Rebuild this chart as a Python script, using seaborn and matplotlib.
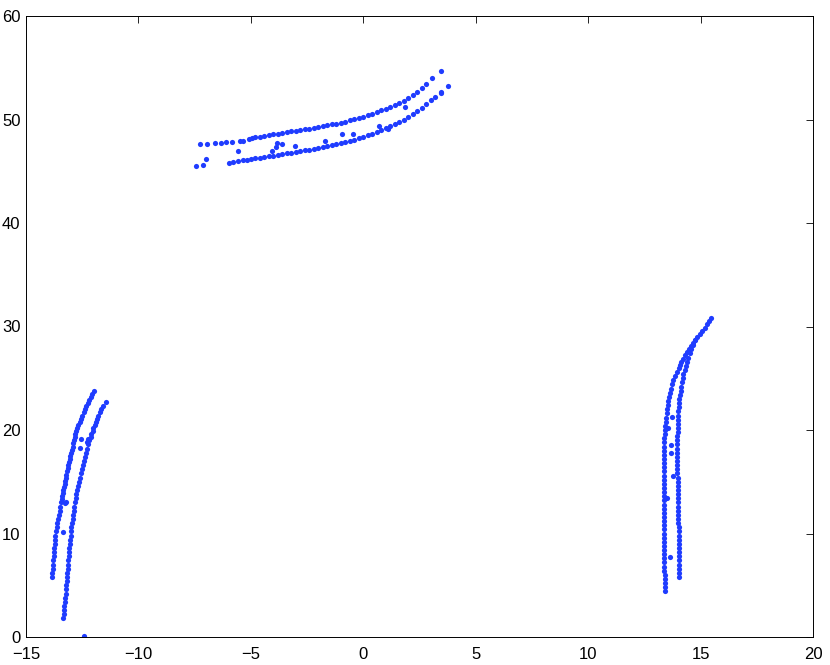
import numpy as np
import pandas as pd
import matplotlib
matplotlib.use('Agg')
import matplotlib.pyplot as plt
import seaborn as sns

# upper arc, top branch
arc_top_a = [(-7.28,47.63),(-6.95,47.67),(-6.6,47.72),(-6.35,47.75),(-6.1,47.8),(-5.85,47.85),
             (-5.5,47.92),(-5.35,47.97),(-5.1,48.12),(-4.95,48.2),(-4.8,48.3),(-4.6,48.35),
             (-4.4,48.42),(-4.2,48.5),(-4.0,48.56),(-3.8,48.63),(-3.6,48.72),(-3.4,48.8),
             (-3.2,48.86),(-3.0,48.92),(-2.8,48.98),(-2.6,49.06),(-2.4,49.13),(-2.2,49.22),
             (-2.0,49.3),(-1.8,49.37),(-1.6,49.44),(-1.4,49.52),(-1.2,49.6),(-1.0,49.7),
             (-0.8,49.8),(-0.6,49.93),(-0.4,50.05),(-0.2,50.15),(0.0,50.28),(0.2,50.42),
             (0.4,50.56),(0.6,50.72),(0.8,50.9),(1.0,51.05),(1.2,51.2),(1.4,51.38),
             (1.6,51.58),(1.8,51.8),(2.0,52.05),(2.2,52.35),(2.4,52.7),(2.6,53.05),
             (2.8,53.45),(3.04,54.0),(3.44,54.7)]
# upper arc, bottom branch
arc_top_b = [(-7.45,45.5),(-7.12,45.6),(-5.96,45.8),(-5.78,45.9),(-5.56,46.0),(-5.35,46.05),
             (-5.19,46.1),(-5.0,46.17),(-4.8,46.25),(-4.6,46.32),(-4.4,46.38),(-4.2,46.45),
             (-4.0,46.52),(-3.8,46.58),(-3.6,46.65),(-3.4,46.72),(-3.2,46.8),(-3.0,46.87),
             (-2.8,46.95),(-2.6,47.02),(-2.4,47.1),(-2.2,47.17),(-2.0,47.25),(-1.8,47.33),
             (-1.6,47.42),(-1.4,47.5),(-1.2,47.6),(-1.0,47.7),(-0.8,47.8),(-0.6,47.92),
             (-0.4,48.05),(-0.2,48.18),(0.0,48.32),(0.2,48.48),(0.4,48.64),(0.6,48.8),
             (0.8,48.98),(1.0,49.15),(1.2,49.35),(1.4,49.55),(1.6,49.77),(1.8,50.0),
             (2.0,50.25),(2.2,50.52),(2.4,50.8),(2.6,51.1),(2.8,51.45),(3.0,51.85),
             (3.2,52.2),(3.44,52.6),(3.78,53.2)]
arc_top_stray = [(-7.0,46.2),(-5.56,47.0),(-4.07,47.0),(-3.9,47.3),(-3.85,47.7),(-3.6,47.6),
                 (-3.04,47.4),(-1.7,47.9),(-0.94,48.6),(-0.45,48.6),(0.71,49.4),(1.11,49.1),
                 (1.85,51.2),(3.45,52.7)]

# left arc, outer branch
arc_left_a = [(-13.86,5.8),(-13.83,6.2),(-13.81,6.6),(-13.79,7.0),(-13.78,7.4),(-13.77,7.8),
              (-13.76,8.2),(-13.74,8.6),(-13.73,9.0),(-13.71,9.4),(-13.69,9.8),(-13.67,10.2),
              (-13.64,10.6),(-13.61,11.0),(-13.58,11.4),(-13.55,11.8),(-13.51,12.2),(-13.48,12.6),
              (-13.45,13.0),(-13.42,13.3),(-13.39,13.6),(-13.37,13.9),(-13.34,14.2),(-13.31,14.5),
              (-13.28,14.8),(-13.26,15.1),(-13.23,15.4),(-13.2,15.7),(-13.17,16.0),(-13.14,16.3),
              (-13.11,16.6),(-13.09,16.9),(-13.06,17.2),(-13.03,17.5),(-12.99,17.8),(-12.96,18.1),
              (-12.93,18.4),(-12.9,18.7),(-12.87,19.0),(-12.83,19.3),(-12.8,19.6),(-12.76,19.9),
              (-12.72,20.2),(-12.67,20.5),(-12.62,20.8),(-12.56,21.1),(-12.5,21.4),(-12.44,21.7),
              (-12.38,22.0),(-12.32,22.3),(-12.26,22.6),(-12.19,22.9),(-12.12,23.2),(-12.05,23.5),
              (-11.98,23.8)]
# left arc, inner branch
arc_left_b = [(-13.34,1.8),(-13.33,2.2),(-13.31,2.6),(-13.29,3.0),(-13.28,3.4),(-13.26,3.8),
              (-13.24,4.2),(-13.22,4.6),(-13.2,5.0),(-13.19,5.4),(-13.18,5.8),(-13.16,6.2),
              (-13.15,6.6),(-13.13,7.0),(-13.12,7.4),(-13.1,7.8),(-13.09,8.2),(-13.07,8.6),
              (-13.06,9.0),(-13.04,9.4),(-13.02,9.8),(-13.0,10.2),(-12.98,10.6),(-12.96,11.0),
              (-12.93,11.4),(-12.9,11.8),(-12.88,12.2),(-12.85,12.6),(-12.82,13.0),(-12.79,13.4),
              (-12.76,13.8),(-12.72,14.2),(-12.69,14.6),(-12.65,15.0),(-12.61,15.4),(-12.56,15.8),
              (-12.52,16.2),(-12.47,16.6),(-12.43,17.0),(-12.39,17.4),(-12.34,17.8),(-12.29,18.2),
              (-12.23,18.6),(-12.18,19.0),(-12.13,19.3),(-12.09,19.6),(-12.04,19.9),(-12.0,20.2),
              (-11.95,20.5),(-11.9,20.8),(-11.84,21.1),(-11.79,21.4),(-11.72,21.7),(-11.65,22.0),
              (-11.56,22.3),(-11.44,22.7)]
arc_left_stray = [(-12.42,0.1),(-13.34,10.1),(-13.27,12.9),(-13.22,13.0),(-12.55,19.1),
                  (-12.6,18.3),(-12.23,19.1),(-12.27,18.8)]

# right arc, outer branch
arc_right_a = [(13.41,4.4),(13.41,4.8),(13.40,5.2),(13.40,5.6),(13.40,6.0),(13.39,6.4),
               (13.39,6.8),(13.39,7.2),(13.38,7.6),(13.38,8.0),(13.38,8.4),(13.37,8.8),
               (13.37,9.2),(13.37,9.6),(13.37,10.0),(13.37,10.4),(13.37,10.8),(13.37,11.2),
               (13.37,11.6),(13.37,12.0),(13.37,12.4),(13.37,12.8),(13.37,13.2),(13.37,13.6),
               (13.37,14.0),(13.37,14.4),(13.37,14.8),(13.37,15.2),(13.37,15.6),(13.37,16.0),
               (13.37,16.4),(13.37,16.8),(13.37,17.2),(13.37,17.6),(13.37,18.0),(13.38,18.4),
               (13.38,18.8),(13.39,19.2),(13.40,19.6),(13.41,20.0),(13.43,20.4),(13.45,20.8),
               (13.47,21.2),(13.49,21.6),(13.52,22.0),(13.54,22.4),(13.57,22.8),(13.6,23.2),
               (13.64,23.6),(13.69,24.0),(13.74,24.4),(13.79,24.8),(13.85,25.2),(13.93,25.6),
               (14.02,26.0),(14.09,26.3),(14.15,26.6),(14.23,26.9),(14.32,27.2),(14.4,27.5),
               (14.49,27.8),(14.57,28.1),(14.66,28.4),(14.74,28.7),(14.82,29.0),(14.96,29.3),
               (15.08,29.6),(15.2,29.9),(15.3,30.2),(15.38,30.5),(15.46,30.8)]
# right arc, inner branch
arc_right_b = [(14.05,5.8),(14.05,6.2),(14.05,6.6),(14.05,7.0),(14.05,7.4),(14.05,7.8),
               (14.04,8.2),(14.04,8.6),(14.04,9.0),(14.03,9.4),(14.03,9.8),(14.02,10.2),
               (14.02,10.6),(14.01,11.0),(14.01,11.4),(14.0,11.8),(14.0,12.2),(14.0,12.6),
               (13.99,13.0),(13.99,13.4),(13.99,13.8),(13.98,14.2),(13.98,14.6),(13.98,15.0),
               (13.98,15.4),(13.97,15.8),(13.97,16.2),(13.96,16.6),(13.96,17.0),(13.96,17.4),
               (13.96,17.8),(13.96,18.2),(13.96,18.6),(13.97,19.0),(13.97,19.4),(13.98,19.8),
               (13.98,20.2),(13.99,20.6),(13.99,21.0),(14.0,21.4),(14.0,21.8),(14.02,22.2),
               (14.04,22.6),(14.06,23.0),(14.08,23.4),(14.11,23.8),(14.14,24.2),(14.17,24.6),
               (14.2,25.0),(14.24,25.4),(14.29,25.8),(14.34,26.2),(14.39,26.6),(14.45,27.0),
               (14.51,27.4),(14.57,27.8),(14.66,28.2),(14.75,28.7)]
arc_right_stray = [(13.66,7.76),(13.51,13.4),(13.78,15.6),(13.68,17.75),(13.68,18.55),
                   (13.71,21.3),(13.56,20.2)]

groups = [arc_top_a, arc_top_b, arc_top_stray, arc_left_a, arc_left_b, arc_left_stray,
          arc_right_a, arc_right_b, arc_right_stray]
df = pd.DataFrame([p for g in groups for p in g], columns=['x', 'y'])

sns.set_style('white')
plt.rcParams['font.family'] = ['Liberation Sans', 'DejaVu Sans']

fig = plt.figure(figsize=(8.3, 6.65), dpi=100)
ax = fig.add_axes([26/830, 28/665, 787/830, 621/665])
sns.scatterplot(data=df, x='x', y='y', ax=ax, color='#1f3cff', s=14, linewidth=0)

ax.set_xlim(-15, 20)
ax.set_ylim(0, 60)
ax.set_xticks(np.arange(-15, 21, 5))
ax.set_yticks(np.arange(0, 61, 10))
ax.set_xlabel('')
ax.set_ylabel('')
ax.tick_params(direction='in', top=True, right=True, length=5, width=0.6,
               labelsize=12, colors='black')
ax.tick_params(axis='x', pad=7)
ax.tick_params(axis='y', pad=4)
for sp in ax.spines.values():
    sp.set_color('black')
    sp.set_linewidth(0.7)

fig.savefig('out.png', dpi=100)
